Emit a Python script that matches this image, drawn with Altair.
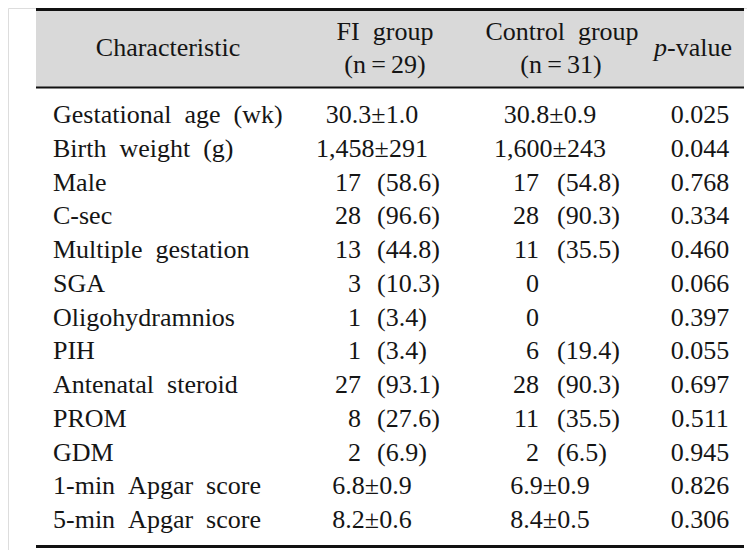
import altair as alt
import pandas as pd

characteristics = ["Gestational age (wk)", "Birth weight (g)", "Male", "C-sec",
                   "Multiple gestation", "SGA", "Oligohydramnios", "PIH",
                   "Antenatal steroid", "PROM", "GDM", "1-min Apgar score",
                   "5-min Apgar score"]
fi_mean = ["30.3±1.0", "1,458±291", "", "", "", "", "", "", "", "", "", "6.8±0.9", "8.2±0.6"]
fi_n = ["", "", "17", "28", "13", "3", "1", "1", "27", "8", "2", "", ""]
fi_pct = ["", "", "(58.6)", "(96.6)", "(44.8)", "(10.3)", "(3.4)", "(3.4)", "(93.1)", "(27.6)", "(6.9)", "", ""]
ct_mean = ["30.8±0.9", "1,600±243", "", "", "", "", "", "", "", "", "", "6.9±0.9", "8.4±0.5"]
ct_n = ["", "", "17", "28", "11", "0", "0", "6", "28", "11", "2", "", ""]
ct_pct = ["", "", "(54.8)", "(90.3)", "(35.5)", "", "", "(19.4)", "(90.3)", "(35.5)", "(6.5)", "", ""]
p_values = ["0.025", "0.044", "0.768", "0.334", "0.460", "0.066", "0.397", "0.055",
            "0.697", "0.511", "0.945", "0.826", "0.306"]

SP = "\u2002"
df = pd.DataFrame({
    "i": list(range(len(characteristics))),
    "char": [c.replace(" ", SP) for c in characteristics],
    "fi_mean": fi_mean, "fi_n": fi_n, "fi_pct": fi_pct,
    "ct_mean": ct_mean, "ct_n": ct_n, "ct_pct": ct_pct,
    "p": p_values,
})

FONT = "Liberation Serif, Times New Roman, serif"
FS = 26
COLOR = "#151515"
OX, OY = 8, 8  # page margin

yenc = alt.Y("i:Q", scale=alt.Scale(domain=[0, 12], range=[115 - OY, 520 - OY]), axis=None)
base = alt.Chart(df)

def col(field, x, align):
    return base.mark_text(font=FONT, fontSize=FS, color=COLOR, align=align,
                          baseline="middle").encode(
        x=alt.value(x - OX), y=yenc, text=alt.Text(f"{field}:N"))

one = pd.DataFrame({"k": [0]})

def hdr(text, x, y, align="center", style="normal"):
    return alt.Chart(one).mark_text(font=FONT, fontSize=FS, color=COLOR, align=align,
                                    baseline="middle", fontStyle=style, text=text).encode(
        x=alt.value(x - OX), y=alt.value(y - OY))

def band(y1, y2, color):
    return alt.Chart(one).mark_rect(color=color).encode(
        x=alt.value(36 - OX), x2=alt.value(744 - OX),
        y=alt.value(y1 - OY), y2=alt.value(y2 - OY))

layers = [
    band(8, 88, "#d9d9d9"),
    band(8, 11, "#111111"),
    band(86.5, 88.5, "#111111"),
    band(545, 548, "#111111"),
    hdr("Characteristic", 168, 48),
    hdr("FI" + SP + "group", 385, 32),
    hdr("(n\u2009=\u200929)", 385, 65),
    hdr("Control" + SP + "group", 562, 32),
    hdr("(n\u2009=\u200931)", 561, 65),
    hdr("p", 667, 48, align="right", style="italic"),
    hdr("-value", 667, 48, align="left"),
    col("char", 53, "left"),
    col("fi_mean", 372, "center"),
    col("fi_n", 361, "right"),
    col("fi_pct", 377, "left"),
    col("ct_mean", 550, "center"),
    col("ct_n", 539, "right"),
    col("ct_pct", 557, "left"),
    col("p", 700, "center"),
]

chart = alt.layer(*layers).properties(
    width=739, height=542, autosize=alt.AutoSizeParams(type="none"), padding=0
).configure_view(stroke=None).configure(background="white")

chart.save("out.html", embed_options={"renderer": "svg", "actions": False})
